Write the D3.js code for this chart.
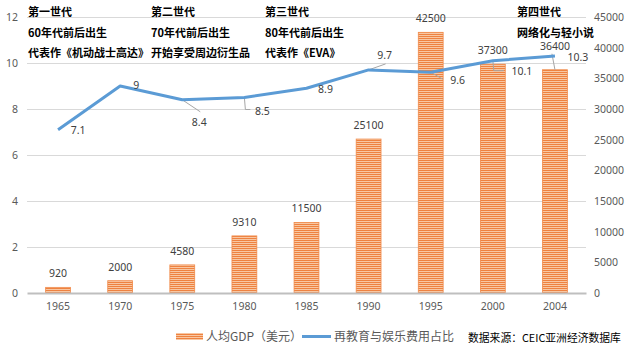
<!DOCTYPE html>
<html><head><meta charset="utf-8">
<script src="https://cdn.jsdelivr.net/npm/d3@7"></script>
<style>
html,body{margin:0;padding:0;background:#fff;}
svg{display:block;}
text{font-family:"Noto Sans","Noto Sans CJK SC",sans-serif;}
.cjk{font-family:"Noto Sans CJK SC","Noto Sans",sans-serif;}
</style></head>
<body><svg id="c" width="632" height="350"></svg>
<script>
const years = ["1965","1970","1975","1980","1985","1990","1995","2000","2004"];
const gdp = [920,2000,4580,9310,11500,25100,42500,37300,36400];
const ratio = [7.1,9,8.4,8.5,8.9,9.7,9.6,10.1,10.3];
const leftTicks = [0,2,4,6,8,10,12];
const rightTicks = [0,5000,10000,15000,20000,25000,30000,35000,40000,45000];
const headers = [
  ["第一世代","60年代前后出生","代表作《机动战士高达》"],
  ["第二世代","70年代前后出生","开始享受周边衍生品"],
  ["第三世代","80年代前后出生","代表作《EVA》"],
  ["第四世代","网络化与轻小说"]
];
const legendNames = ["人均GDP（美元）","再教育与娱乐费用占比"];
const source = "数据来源：CEIC亚洲经济数据库";

const svg = d3.select("#c");
const L = 27, R = 586, T = 17, B = 293;
const x = d3.scaleBand().domain(years).range([L,R]).paddingInner(0.6).paddingOuter(0.3);
const yL = d3.scaleLinear().domain([0,12]).range([B,T]);
const yR = d3.scaleLinear().domain([0,45000]).range([B,T]);

const defs = svg.append("defs");
const pat = defs.append("pattern").attr("id","stripe").attr("patternUnits","userSpaceOnUse")
  .attr("width",4).attr("height",2);
pat.append("rect").attr("width",4).attr("height",2).attr("fill","#F8C7A2");
pat.append("rect").attr("width",4).attr("height",1).attr("fill","#EE8240");

// gridlines
svg.append("g").selectAll("line").data(leftTicks.filter(d=>d>0)).join("line")
  .attr("x1",L).attr("x2",R).attr("y1",d=>yL(d)+0.5).attr("y2",d=>yL(d)+0.5)
  .attr("stroke","#D9D9D9").attr("stroke-width",1);

// left axis
const gl = svg.append("g").attr("transform",`translate(${L},0)`)
  .call(d3.axisLeft(yL).tickValues(leftTicks).tickSize(0).tickPadding(9));
gl.select(".domain").remove();
gl.selectAll("text").attr("fill","#595959").attr("font-size","10.5px");

// right axis
const gr = svg.append("g").attr("transform",`translate(${R},0)`)
  .call(d3.axisRight(yR).tickValues(rightTicks).tickFormat(d3.format("d")).tickSize(0).tickPadding(8));
gr.select(".domain").remove();
gr.selectAll("text").attr("fill","#595959").attr("font-size","10.5px");

// bars
svg.append("g").selectAll("rect").data(gdp).join("rect")
  .attr("x",(d,i)=>x(years[i])).attr("width",x.bandwidth())
  .attr("y",d=>yR(d)).attr("height",d=>B-yR(d))
  .attr("fill","url(#stripe)").attr("stroke","#F08A4A").attr("stroke-width",0.8);

// x axis
const gx = svg.append("g").attr("transform",`translate(0,${B})`)
  .call(d3.axisBottom(x).tickSize(0).tickPadding(10));
gx.select(".domain").attr("stroke","#BFBFBF").attr("stroke-width",2);
gx.selectAll("text").attr("fill","#595959").attr("font-size","10.5px");

// leader lines (under line)
const cx = i => x(years[i]) + x.bandwidth()/2;
const lead = svg.append("g").attr("stroke","#A6A6A6").attr("stroke-width",1).attr("fill","none");
lead.append("path").attr("d",`M${cx(2)},${yL(ratio[2])}L${cx(2)+18},${yL(ratio[2])+12}`);
lead.append("path").attr("d",`M${cx(3)},${yL(ratio[3])}L${cx(3)+1},${yL(ratio[3])+12}L${cx(3)+6},${yL(ratio[3])+12}`);
lead.append("path").attr("d",`M${cx(5)},${yL(ratio[5])}L${cx(5)+17},${yL(ratio[5])-6}`);
lead.append("path").attr("d",`M${cx(6)},${yL(ratio[6])}L${cx(6)+12},${yL(ratio[6])+7}`);
lead.append("path").attr("d",`M${cx(7)},${yL(ratio[7])}L${cx(7)+1},${yL(ratio[7])+10}L${cx(7)+11},${yL(ratio[7])+10}`);
lead.append("path").attr("d",`M${cx(8)},${yR(gdp[8])}L${cx(8)-3},${yR(gdp[8])-16}`);

// line
svg.append("path").datum(ratio)
  .attr("d",d3.line().x((d,i)=>cx(i)).y(d=>yL(d)))
  .attr("fill","none").attr("stroke","#5B9BD5").attr("stroke-width",3).attr("stroke-linejoin","round");

// bar labels
const barDy = [0,0,0,0,0,0,0,0,-10];
svg.append("g").selectAll("text").data(gdp).join("text")
  .attr("x",(d,i)=>cx(i)).attr("y",(d,i)=>yR(d)-10+barDy[i])
  .attr("text-anchor","middle").attr("font-size","10.5px").attr("fill","#404040")
  .text(d=>d);

// line labels
const lOff = [[20,4],[16,3],[17,26],[18,17],[19,5],[16,-11],[27,12],[29,14],[23,5]];
svg.append("g").selectAll("text").data(ratio).join("text")
  .attr("x",(d,i)=>cx(i)+lOff[i][0]).attr("y",(d,i)=>yL(d)+lOff[i][1])
  .attr("text-anchor","middle").attr("font-size","10.5px").attr("fill","#404040")
  .text(d=>d);

// headers
const hx = [28,151,265,517];
headers.forEach((col,ci)=>{
  col.forEach((t,ri)=>{
    svg.append("text").attr("class","cjk").attr("x",hx[ci]).attr("y",16+ri*20.5)
      .attr("font-size","11px").attr("font-weight","bold").attr("fill","#000").text(t);
  });
});

// legend
const lg = svg.append("g");
lg.append("rect").attr("x",176).attr("y",333).attr("width",27).attr("height",7).attr("fill","url(#stripe)");
lg.append("text").attr("class","cjk").attr("x",206).attr("y",341).attr("font-size","12px").attr("fill","#595959").text(legendNames[0]);
lg.append("line").attr("x1",302).attr("x2",331).attr("y1",336.5).attr("y2",336.5).attr("stroke","#5B9BD5").attr("stroke-width",3);
lg.append("text").attr("class","cjk").attr("x",334).attr("y",341).attr("font-size","12px").attr("fill","#595959").text(legendNames[1]);
svg.append("text").attr("class","cjk").attr("x",468).attr("y",342).attr("font-size","10.8px").attr("fill","#000").text(source);
</script></body></html>
